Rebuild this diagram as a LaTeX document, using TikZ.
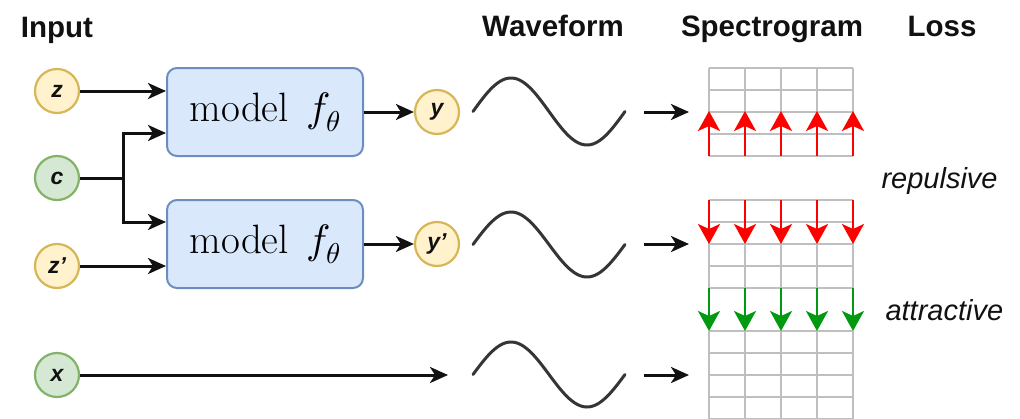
\documentclass[tikz,border=0pt]{standalone}
\usepackage{fontspec}
\usepackage{unicode-math}
\setmainfont{Latin Modern Roman}
\setmathfont{Latin Modern Math}
\newfontfamily\hsans{Liberation Sans}
\usetikzlibrary{arrows.meta}
\definecolor{yfill}{HTML}{FFF2CC}
\definecolor{ydraw}{HTML}{D6B656}
\definecolor{gfill}{HTML}{D5E8D4}
\definecolor{gdraw}{HTML}{82B366}
\definecolor{bfill}{HTML}{DAE8FC}
\definecolor{bdraw}{HTML}{6C8EBF}
\definecolor{gridc}{HTML}{BFBFBF}
\definecolor{lossred}{HTML}{FF0000}
\definecolor{lossgreen}{HTML}{00990F}
\definecolor{ink}{HTML}{111111}
\begin{document}
\begin{tikzpicture}[x=1pt,y=-1pt,
  header/.style={font=\hsans\bfseries\fontsize{29.5}{29.5}\selectfont, anchor=base, text=ink},
  var/.style={circle, line width=2.2pt, minimum size=44pt, inner sep=0pt, font=\hsans\bfseries\itshape\fontsize{23}{23}\selectfont, text=ink},
  yvar/.style={var, draw=ydraw, fill=yfill},
  gvar/.style={var, draw=gdraw, fill=gfill},
  model/.style={draw=bdraw, fill=bfill, line width=2pt, rounded corners=10pt, minimum width=196pt, minimum height=88pt, inner sep=0pt, font=\fontsize{41}{41}\selectfont},
  arr/.style={draw=ink, line width=3pt, -{Stealth[length=18pt,width=16pt,inset=5pt]}},
  conn/.style={draw=ink, line width=3pt},
  wave/.style={draw=ink!85, line width=3pt, line cap=round},
  gridline/.style={draw=gridc, line width=2.2pt},
  redarr/.style={draw=lossred, line width=2.4pt, -{Stealth[length=20pt,width=22pt,inset=5pt]}},
  greenarr/.style={draw=lossgreen, line width=2.4pt, -{Stealth[length=20pt,width=22pt,inset=5pt]}},
  losslabel/.style={font=\hsans\itshape\fontsize{29}{29}\selectfont, anchor=base west, text=ink}
]
\useasboundingbox (0,0) rectangle (1020,418);

% headers
\node[header] (hin) at (57,37) {Input};
\node[header] (hwave) at (553,36) {Waveform};
\node[header] (hspec) at (772,36) {Spectrogram};
\node[header] (hloss) at (942,36) {Loss};

% inputs
\node[yvar] (z) at (57,91) {z};
\node[gvar] (c) at (57,178) {c};
\node[yvar] (zp) at (57,266) {z’};
\node[gvar] (x) at (57,375) {x};

% models
\node[model] (m1) at (265,112) {model\hspace{0.42em}$f_\theta$};
\node[model] (m2) at (265,244) {model\hspace{0.42em}$f_\theta$};

% outputs
\node[yvar] (y) at (437,112) {y};
\node[yvar] (yp) at (437,244) {y’};

% connectors
\coordinate (cj) at (123,178);
\draw[arr] (z) -- (m1.west |- z);
\draw[conn] (c) -- (cj);
\draw[arr] (cj) |- ([yshift=-21pt]m1.west);
\draw[arr] (cj) |- ([yshift=22pt]m2.west);
\draw[arr] (zp) -- (m2.west |- zp);
\draw[arr] (m1) -- (y);
\draw[arr] (m2) -- (yp);
\coordinate (xend) at (448,375);
\draw[arr] (x) -- (xend);

% waveforms
\draw[wave] plot[domain=0:152, samples=80, smooth] ({473+\x},{111.5-33.5*sin(\x/152*360)});
\draw[wave] plot[domain=0:152, samples=80, smooth] ({473+\x},{244.5-32.5*sin(\x/152*360)});
\draw[wave] plot[domain=0:152, samples=80, smooth] ({473+\x},{374.5-32.5*sin(\x/152*360)});

% wave -> spectrogram arrows
\coordinate (w1) at (644,112);
\coordinate (s1) at (689,112);
\coordinate (w2) at (644,244);
\coordinate (s2) at (689,244);
\coordinate (w3) at (644,375);
\coordinate (s3) at (689,375);
\draw[arr] (w1) -- (s1);
\draw[arr] (w2) -- (s2);
\draw[arr] (w3) -- (s3);

% spectrogram grids
\foreach \top in {68,200,331}{
  \foreach \i in {0,...,4}{
    \draw[gridline] (709,{\top+22*\i}) -- (853,{\top+22*\i});
  }
  \foreach \xx in {709,745,781,817,853}{
    \draw[gridline] (\xx,\top) -- (\xx,{\top+88});
  }
}

% loss arrows
\foreach \xx in {709,745,781,817,853}{
  \draw[redarr] (\xx,156) -- (\xx,111);
  \draw[redarr] (\xx,200) -- (\xx,244);
  \draw[greenarr] (\xx,288) -- (\xx,331);
}

\node[losslabel] (rep) at (878,188) {repulsive};
\node[losslabel] (att) at (882,320) {attractive};
\end{tikzpicture}
\end{document}
